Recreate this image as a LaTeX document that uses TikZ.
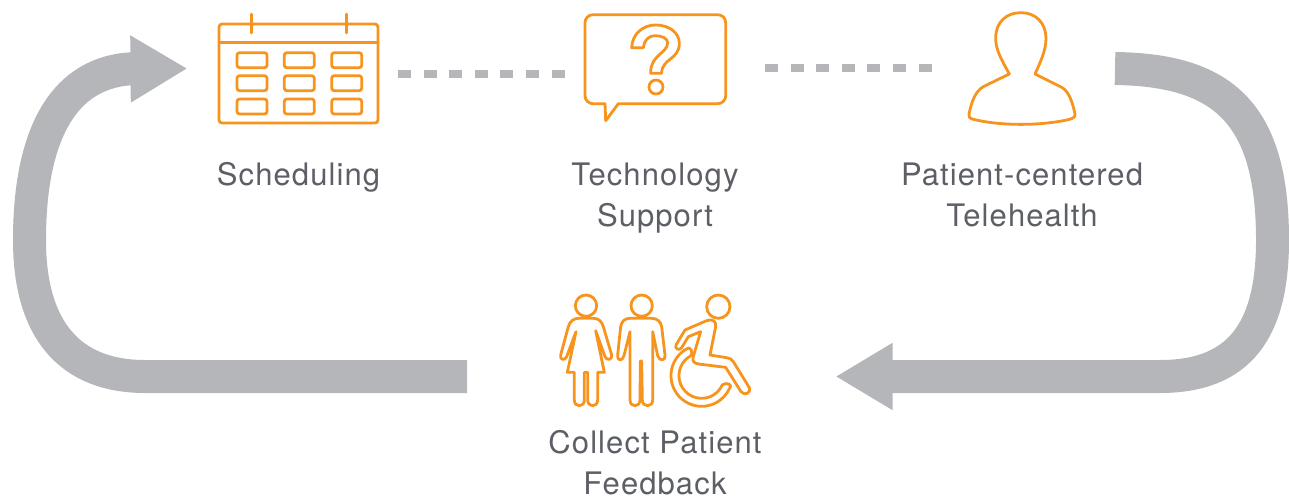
\documentclass[tikz,border=0pt]{standalone}
\usepackage{fontspec}
\setmainfont[LetterSpace=3.5]{TeX Gyre Heros}
\usetikzlibrary{arrows.meta}
\definecolor{iconorange}{HTML}{F7941D}
\definecolor{loopgray}{HTML}{B5B6BA}
\definecolor{labelgray}{HTML}{5D5F66}
\tikzset{
    icon/.style={iconorange, line width=2.8pt, line join=round, line cap=round},
    loopline/.style={loopgray, line width=33pt, -{Triangle[length=57pt,width=63pt]}},
    dotline/.style={loopgray, line width=8pt, dash pattern=on 13pt off 12.6pt},
    steplabel/.style={align=center, text=labelgray, font=\fontsize{31}{41}\selectfont, inner sep=0pt}
}

\begin{document}
\begin{tikzpicture}[x=1pt,y=-1pt]
    \useasboundingbox (0,0) rectangle (1289,495);

    % loop
    \coordinate (telestart) at (1115,68.5);
    \coordinate (teleside) at (1272.5,240);
    \coordinate (feedin) at (835.5,376.5);
    \coordinate (feedout) at (467,376.5);
    \coordinate (schedside) at (29.5,240);
    \coordinate (schedin) at (187.5,68.5);
    \draw[loopline] (telestart) .. controls (1220,70) and (1272.5,110) .. (teleside)
        .. controls (1272.5,330) and (1240,376.5) .. (1160,376.5) -- (feedin);
    \draw[loopline] (feedout) -- (145,376.5) .. controls (70,376.5) and (29.5,330) .. (schedside)
        .. controls (29.5,140) and (60,75) .. (128,69) -- (schedin);

    % dots
    \coordinate (calout) at (398,73.5);
    \coordinate (chatin) at (565,73.5);
    \coordinate (chatout) at (765,68);
    \coordinate (headin) at (932,68);
    \draw[dotline] (calout) -- (chatin);
    \draw[dotline] (chatout) -- (headin);

    % calendar
    \draw[icon, rounded corners=3pt] (219,24) rectangle (378,123);
    \draw[icon] (219,42.7) -- (378,42.7);
    \foreach \x in {251.7,346.3}{
        \draw[icon] (\x,14) -- (\x,33);
    }
    \foreach \x in {237,284.3,331.7}{
        \foreach \y in {52.7,75.7,99}{
            \draw[icon, rounded corners=2.5pt] (\x,\y) rectangle (\x+30,\y+15);
    }}

    % chat bubble
    \draw[icon, rounded corners=8pt] (605,103.7) -- (585,103.7) -- (585,14.7) -- (725.7,14.7) -- (725.7,103.7) -- (618.3,103.7);
    \draw[icon] (605,103.7) -- (605.7,120.7) -- (618.3,103.7);
    \begin{scope}[shift={(570,0)},x=0.3333pt,y=-0.3333pt]
        \draw[icon] (185,143) .. controls (187,100) and (220,75) .. (257,75)
            .. controls (300,75) and (328,100) .. (328,130)
            .. controls (328,180) and (275,175) .. (275,220) -- (242,220)
            .. controls (240,165) and (293,160) .. (293,128)
            .. controls (293,115) and (275,107) .. (255,107)
            .. controls (235,107) and (222,122) .. (220,143) -- cycle;
        \draw[icon] (258,261) circle (21);
    \end{scope}

    % person
    \begin{scope}[shift={(950,0)},x=0.3333pt,y=-0.3333pt]
        \draw[icon] (178,222) .. controls (155,180) and (137,150) .. (137,115)
            .. controls (137,65) and (170,38) .. (213,38)
            .. controls (258,38) and (288,70) .. (288,115)
            .. controls (288,150) and (272,185) .. (255,222) -- (335,262)
            .. controls (358,275) and (368,310) .. (375,342)
            .. controls (376,352) and (370,355) .. (355,359)
            .. controls (270,378) and (150,378) .. (70,358)
            .. controls (58,355) and (55,350) .. (57,342)
            .. controls (65,305) and (75,275) .. (100,260) -- cycle;
    \end{scope}

    % people
    \begin{scope}[shift={(550,285)},x=0.3333pt,y=-0.3333pt]
        \draw[icon] (108,62) circle (32);
        \draw[icon] (78,140) -- (50,215) .. controls (45,228) and (28,225) .. (32,210)
            -- (55,125) .. controls (60,108) and (72,100) .. (85,100) -- (130,100)
            .. controls (145,100) and (155,108) .. (160,125) -- (185,210)
            .. controls (188,225) and (170,228) .. (165,215) -- (137,137) -- (163,262) -- (143,262) -- (143,345)
            .. controls (143,368) and (113,368) .. (113,345) -- (113,262) -- (103,262) -- (103,345)
            .. controls (103,368) and (73,368) .. (73,345) -- (73,262) -- (52,262) -- cycle;
        \draw[icon] (275,62) circle (32);
        \draw[icon] (240,140) -- (222,212) .. controls (218,230) and (200,228) .. (203,210)
            -- (212,125) .. controls (215,108) and (225,100) .. (240,100) -- (305,100)
            .. controls (322,100) and (332,110) .. (335,125) -- (345,210)
            .. controls (348,228) and (328,230) .. (323,212) -- (308,140) -- (308,345)
            .. controls (308,368) and (277,368) .. (277,345) -- (275,228) -- (271,228) -- (270,345)
            .. controls (270,368) and (240,368) .. (240,345) -- cycle;
        \draw[icon] (505,65) circle (35);
        \draw[icon] (378,180) -- (405,135) -- (470,107) .. controls (488,100) and (500,110) .. (497,125)
            -- (480,210) -- (530,218) .. controls (540,220) and (545,222) .. (550,230) -- (598,308)
            .. controls (605,322) and (585,335) .. (573,320) -- (527,247) -- (445,237)
            .. controls (432,235) and (427,228) .. (429,218) -- (452,140) -- (415,155) -- (395,188)
            .. controls (388,198) and (373,192) .. (378,180) -- cycle;
        \draw[icon] (410.4,191.5) arc[start angle=241, end angle=24, radius=92]
            .. controls (550,300) and (530,290) .. (517,299.7)
            arc[start angle=24, end angle=241, radius=68]
            .. controls (432,205) and (420,180) .. (410.4,191.5) -- cycle;
    \end{scope}

    % labels
    \node[steplabel] (scheduling) at (298.5,177.5) {Scheduling};
    \node[steplabel] (techsupport) at (655,198.5) {Technology\\Support};
    \node[steplabel] (telehealth) at (1022,194.5) {Patient-centered\\Telehealth};
    \node[steplabel] (feedback) at (655,462.5) {Collect Patient\\Feedback};
\end{tikzpicture}
\end{document}
